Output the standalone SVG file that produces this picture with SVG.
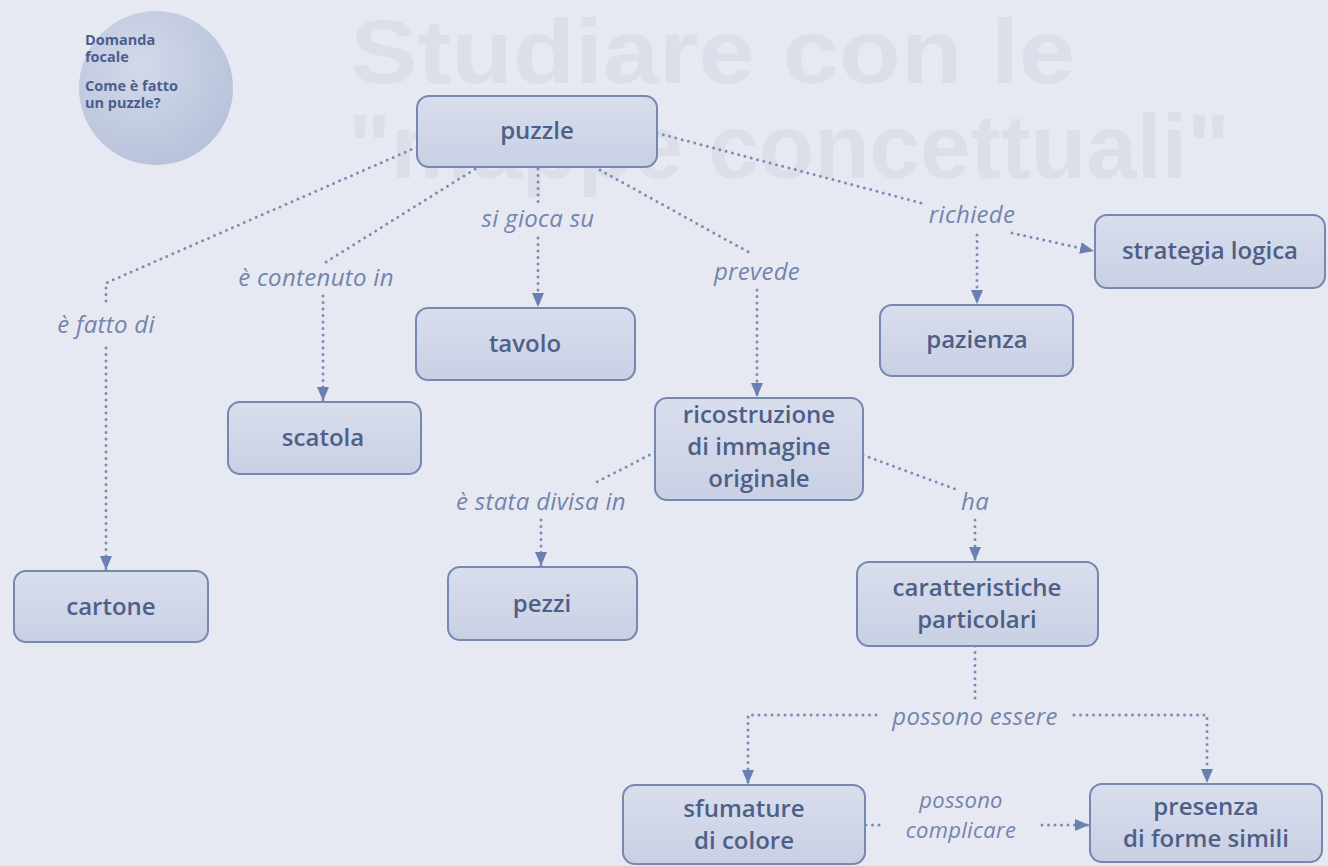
<svg xmlns="http://www.w3.org/2000/svg" width="1328" height="866" viewBox="0 0 1328 866">
<defs>
<style>
.bg{fill:#e7e9f2}
.ghost{font-family:"Liberation Sans",Arial,sans-serif;font-weight:bold;font-size:90px;fill:#dcdfea}
.node{fill:url(#nodeGrad);stroke:#7688b1;stroke-width:2}
.nt{font-family:"Open Sans","Noto Sans",sans-serif;font-weight:600;font-size:24px;fill:#4e5f88;text-anchor:middle}
.lbl{font-family:"Open Sans","Noto Sans",sans-serif;font-style:italic;font-size:24px;letter-spacing:0.3px;fill:#7384ad;text-anchor:middle}
.lbl2{font-size:22px}
.dot{fill:none;stroke:#7b8cb5;stroke-width:3;stroke-linecap:round;stroke-dasharray:0 6.5}
.arr{marker-end:url(#ah)}
.ct{font-family:"Open Sans","Noto Sans",sans-serif;font-weight:700;font-size:14.5px;fill:#4b5e8e}
</style>
<linearGradient id="nodeGrad" x1="0" y1="0" x2="0" y2="1">
<stop offset="0" stop-color="#d9deed"/>
<stop offset="1" stop-color="#c9d0e4"/>
</linearGradient>
<radialGradient id="circGrad" cx="0.4" cy="0.35" r="0.7">
<stop offset="0" stop-color="#d3d9ea"/>
<stop offset="1" stop-color="#b7c1da"/>
</radialGradient>
<marker id="ah" viewBox="0 0 14 12" refX="14" refY="6" markerWidth="14" markerHeight="12" markerUnits="userSpaceOnUse" orient="auto">
<path d="M0,0 L14,6 L0,12 z" fill="#6a80b2"/>
</marker>
</defs>
<rect class="bg" x="0" y="0" width="1328" height="866"/>
<g id="background-title">
<text class="ghost" x="350" y="83" textLength="725" lengthAdjust="spacingAndGlyphs">Studiare con le</text>
<text class="ghost" x="348" y="178" textLength="882" lengthAdjust="spacingAndGlyphs">"mappe concettuali"</text>
</g>
<g id="focal-question">
<circle cx="156" cy="88" r="77" fill="url(#circGrad)"/>
<text class="ct" x="85" y="45">Domanda</text>
<text class="ct" x="85" y="62">focale</text>
<text class="ct" x="85" y="91">Come è fatto</text>
<text class="ct" x="85" y="108">un puzzle?</text>
</g>
<g id="connectors">
<path class="dot" d="M417,147 L106,283 L106,305"/>
<path class="dot arr" d="M106,348 L106,570"/>
<path class="dot" d="M475,169 L326,262"/>
<path class="dot arr" d="M323,296 L323,401"/>
<path class="dot" d="M538,169 L538,204"/>
<path class="dot arr" d="M538,238 L538,307"/>
<path class="dot" d="M600,170 L752,254"/>
<path class="dot arr" d="M757,290 L757,397"/>
<path class="dot" d="M657,133 L925,204"/>
<path class="dot arr" d="M1012,233 L1094,251"/>
<path class="dot arr" d="M977,235 L977,304"/>
<path class="dot" d="M655,452 L593,484"/>
<path class="dot arr" d="M541,520 L541,566"/>
<path class="dot" d="M863,455 L955,489"/>
<path class="dot arr" d="M975,520 L975,561"/>
<path class="dot" d="M975,646 L975,704"/>
<path class="dot arr" d="M876,715 L748,715 L748,784"/>
<path class="dot arr" d="M1074,715 L1207,715 L1207,783"/>
<path class="dot" d="M866,825 L880,825"/>
<path class="dot arr" d="M1042,825 L1089,825"/>
<text class="lbl" x="106" y="333">è fatto di</text>
<text class="lbl" x="316" y="286">è contenuto in</text>
<text class="lbl" x="538" y="227">si gioca su</text>
<text class="lbl" x="757" y="280">prevede</text>
<text class="lbl" x="972" y="223">richiede</text>
<text class="lbl" x="541" y="510">è stata divisa in</text>
<text class="lbl" x="975" y="510">ha</text>
<text class="lbl" x="975" y="725">possono essere</text>
<text class="lbl lbl2" x="961" y="808">possono</text>
<text class="lbl lbl2" x="961" y="838">complicare</text>
</g>
<g id="n-puzzle"><rect class="node" x="417" y="96" width="240" height="71" rx="12"/><text class="nt" x="537" y="139">puzzle</text></g>
<g id="n-strategia"><rect class="node" x="1095" y="215" width="230" height="73" rx="12"/><text class="nt" x="1210" y="259">strategia logica</text></g>
<g id="n-tavolo"><rect class="node" x="416" y="308" width="219" height="72" rx="12"/><text class="nt" x="525" y="352">tavolo</text></g>
<g id="n-pazienza"><rect class="node" x="880" y="305" width="193" height="71" rx="12"/><text class="nt" x="977" y="348">pazienza</text></g>
<g id="n-scatola"><rect class="node" x="228" y="402" width="193" height="72" rx="12"/><text class="nt" x="323" y="446">scatola</text></g>
<g id="n-ricostruzione"><rect class="node" x="655" y="398" width="208" height="102" rx="12"/><text class="nt" x="759" y="423">ricostruzione</text><text class="nt" x="759" y="455">di immagine</text><text class="nt" x="759" y="487">originale</text></g>
<g id="n-cartone"><rect class="node" x="14" y="571" width="194" height="71" rx="12"/><text class="nt" x="111" y="615">cartone</text></g>
<g id="n-pezzi"><rect class="node" x="448" y="567" width="189" height="73" rx="12"/><text class="nt" x="542" y="612">pezzi</text></g>
<g id="n-caratteristiche"><rect class="node" x="857" y="562" width="241" height="84" rx="12"/><text class="nt" x="977" y="596">caratteristiche</text><text class="nt" x="977" y="628">particolari</text></g>
<g id="n-sfumature"><rect class="node" x="623" y="785" width="242" height="79" rx="12"/><text class="nt" x="744" y="817">sfumature</text><text class="nt" x="744" y="849">di colore</text></g>
<g id="n-presenza"><rect class="node" x="1090" y="784" width="232" height="78" rx="12"/><text class="nt" x="1206" y="815">presenza</text><text class="nt" x="1206" y="847">di forme simili</text></g>
</svg>
